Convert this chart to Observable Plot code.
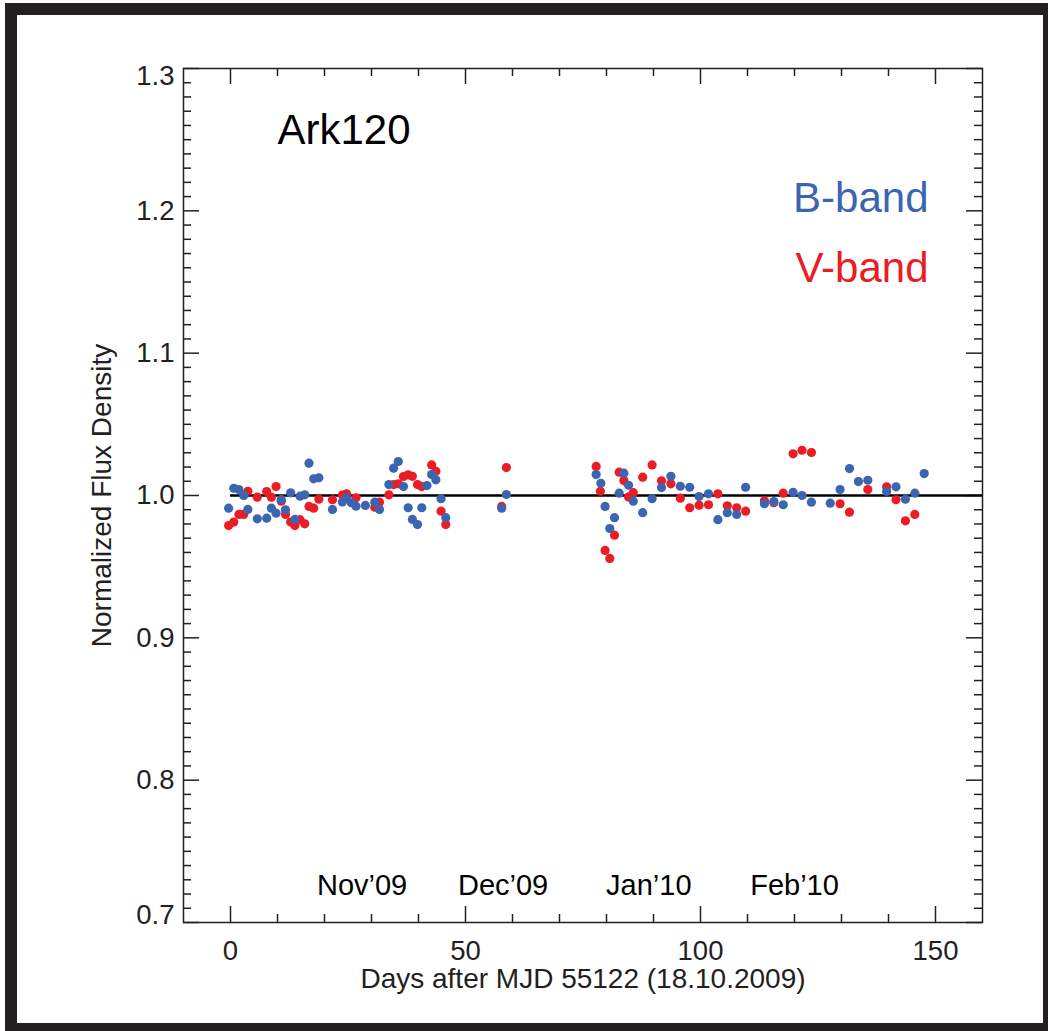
<!DOCTYPE html>
<html><head><meta charset="utf-8">
<script src="https://cdn.jsdelivr.net/npm/d3@7"></script>
<script src="https://cdn.jsdelivr.net/npm/@observablehq/plot@0.6"></script>
<style>
html,body{margin:0;padding:0;background:#fff;overflow:hidden;}
#wrap{position:relative;width:1048px;height:1031px;}
#wrap svg{position:absolute;left:0;top:0;}
#frame{position:absolute;left:5px;top:3px;width:1026px;height:1008px;border:12px solid #231f20;pointer-events:none;}
</style></head><body><div id="wrap"><div id="frame"></div></div>
<script>
// ---- data ----
const objectName = "Ark120";
const bandLabels = ["B-band", "V-band"];
const xTitle = "Days after MJD 55122 (18.10.2009)";
const yTitle = "Normalized Flux Density";
const monthLabels = ["Nov\u201909", "Dec\u201909", "Jan\u201910", "Feb\u201910"];
const monthDays = [28, 58, 89, 120];
const xMajorTicks = [0, 50, 100, 150];
const xMinorTicks = [10, 20, 30, 40, 60, 70, 80, 90, 110, 120, 130, 140];
const yLabelTicks = [0.8, 0.9, 1.0, 1.1, 1.2];
const yEndTicks = [0.7, 1.3];
const yMajorTicks = [0.7, 0.8, 0.9, 1.0, 1.1, 1.2, 1.3];
const yMinorTicks = d3.range(70, 131).filter(v => v % 10 !== 0).map(v => v / 100);
const referenceLevel = 1.0;
const referenceStart = 0;

const bDays = [-0.4,0.7,1.8,2.8,3.7,5.7,7.7,8.7,9.7,10.8,11.7,12.8,13.7,14.8,15.8,16.7,17.7,18.8,21.7,
  23.8,24.7,25.7,26.7,28.7,30.7,31.7,33.7,34.7,35.7,36.8,37.8,38.7,39.8,40.7,41.8,42.8,43.7,44.8,45.8,
  57.7,58.7,
  77.8,78.8,79.7,80.7,81.7,82.7,83.7,84.7,85.7,87.7,89.7,91.7,93.7,95.7,97.7,99.7,101.7,103.7,105.7,107.7,109.6,
  113.6,115.6,117.6,119.7,121.6,123.6,127.6,129.7,131.7,133.6,135.6,139.6,141.6,143.6,145.6,147.6];
const bFlux = [0.9911,1.0051,1.0042,1.0000,0.9902,0.9836,0.9841,0.9911,0.9876,0.9972,0.9900,1.0019,0.9832,0.9995,1.0005,1.0227,1.0117,1.0124,0.9902,
  0.9955,0.9984,0.9949,0.9925,0.9930,0.9953,0.9902,1.0077,1.0192,1.0239,1.0063,0.9914,0.9832,0.9796,0.9914,1.0070,1.0147,1.0110,0.9977,0.9844,
  0.9911,1.0007,
  1.0147,1.0086,0.9923,0.9768,0.9844,1.0016,1.0157,1.0072,0.9960,0.9879,0.9977,1.0056,1.0135,1.0065,1.0058,0.9993,1.0012,0.9830,0.9879,0.9867,1.0058,
  0.9942,0.9958,0.9935,1.0023,1.0000,0.9953,0.9946,1.0042,1.0189,1.0098,1.0107,1.0028,1.0061,0.9974,1.0016,1.0154];

const vDays = [-0.4,0.7,1.8,2.8,3.7,5.7,7.7,8.7,9.7,10.8,11.7,12.8,13.7,14.8,15.8,16.7,17.7,18.8,21.7,
  23.8,24.7,26.7,30.7,31.7,33.7,34.7,35.7,36.8,37.8,38.7,39.8,40.7,42.8,43.7,44.8,45.8,
  57.7,58.7,
  77.8,78.7,79.7,80.7,81.7,82.7,83.7,84.7,85.7,87.7,89.7,91.7,93.7,95.7,97.7,99.7,101.7,103.7,105.7,107.7,109.6,
  113.6,115.6,117.6,119.7,121.6,123.6,129.7,131.7,135.6,139.6,141.6,143.6,145.6];
const vFlux = [0.9789,0.9813,0.9867,0.9867,1.0030,0.9988,1.0028,0.9988,1.0063,0.9960,0.9867,0.9813,0.9789,0.9830,0.9801,0.9923,0.9911,0.9974,0.9970,
  1.0003,1.0012,0.9984,0.9918,0.9953,1.0005,1.0077,1.0082,1.0133,1.0145,1.0135,1.0077,1.0063,1.0215,1.0170,0.9890,0.9796,
  0.9923,1.0196,
  1.0204,1.0030,0.9614,0.9558,0.9721,1.0164,1.0105,0.9990,1.0020,1.0129,1.0215,1.0103,1.0082,0.9981,0.9914,0.9932,0.9935,1.0012,0.9928,0.9914,0.9890,
  0.9963,0.9949,1.0016,1.0293,1.0318,1.0302,0.9942,0.9883,1.0042,1.0061,0.9970,0.9822,0.9867];

// ---- layout ----
const W = 1048, H = 1031, mL = 183, mR = 66, mT = 68, mB = 109;
const plotW = W - mL - mR, plotH = H - mT - mB;
const ink = "#231f20";
const blue = "#3c65b1";
const red = "#ec1c24";
const font = "'Liberation Sans', Arial, Helvetica, sans-serif";

const bData = bDays.map((d, i) => ({day: d, flux: bFlux[i]}));
const vData = vDays.map((d, i) => ({day: d, flux: vFlux[i]}));

const chart = Plot.plot({
  width: W, height: H,
  marginLeft: mL, marginRight: mR, marginTop: mT, marginBottom: mB,
  style: {fontFamily: font, background: "transparent", color: ink},
  x: {domain: [-10, 160]},
  y: {domain: [0.7, 1.3]},
  marks: [
    // ticks bottom/top
    Plot.tickX(xMinorTicks, {x: d => d, insetTop: plotH - 8, stroke: ink, strokeWidth: 1.5}),
    Plot.tickX(xMajorTicks, {x: d => d, insetTop: plotH - 16, stroke: ink, strokeWidth: 1.5}),
    Plot.tickX(xMinorTicks, {x: d => d, insetBottom: plotH - 8, stroke: ink, strokeWidth: 1.5}),
    Plot.tickX(xMajorTicks, {x: d => d, insetBottom: plotH - 16, stroke: ink, strokeWidth: 1.5}),
    // ticks left/right
    Plot.tickY(yMinorTicks, {y: d => d, insetRight: plotW - 8, stroke: ink, strokeWidth: 1.5}),
    Plot.tickY(yMajorTicks, {y: d => d, insetRight: plotW - 16, stroke: ink, strokeWidth: 1.5}),
    Plot.tickY(yMinorTicks, {y: d => d, insetLeft: plotW - 8, stroke: ink, strokeWidth: 1.5}),
    Plot.tickY(yMajorTicks, {y: d => d, insetLeft: plotW - 16, stroke: ink, strokeWidth: 1.5}),
    Plot.frame({stroke: ink, strokeWidth: 1.5}),
    // axis labels
    Plot.axisX({ticks: xMajorTicks, tickSize: 0, tickPadding: 18, fontSize: 27.5, tickFormat: d => String(d), label: null, fill: ink}),
    Plot.axisY({ticks: yLabelTicks, tickSize: 0, tickPadding: 9, fontSize: 27.5, tickFormat: d3.format(".1f"), label: null, fill: ink}),
    Plot.text([yEndTicks[0]], {y: d => d, text: d => d.toFixed(1), frameAnchor: "left", dx: -9, dy: -7, textAnchor: "end", lineAnchor: "middle", fontSize: 27.5, fill: ink}),
    Plot.text([yEndTicks[1]], {y: d => d, text: d => d.toFixed(1), frameAnchor: "left", dx: -9, dy: 8, textAnchor: "end", lineAnchor: "middle", fontSize: 27.5, fill: ink}),
    Plot.text([xTitle], {text: d => d, frameAnchor: "bottom", dy: 57, textAnchor: "middle", lineAnchor: "middle", fontSize: 28, fill: ink}),
    Plot.text([yTitle], {text: d => d, frameAnchor: "left", rotate: -90, dx: -81, textAnchor: "middle", lineAnchor: "middle", fontSize: 28, fill: ink}),
    // month labels
    Plot.text(monthLabels, {x: (d, i) => monthDays[i], text: d => d, frameAnchor: "bottom", dy: -37, textAnchor: "middle", lineAnchor: "middle", fontSize: 29, fill: "black"}),
    // reference line
    Plot.ruleY([referenceLevel], {x1: referenceStart, x2: 160, stroke: "black", strokeWidth: 2.6}),
    // data
    Plot.dot(vData, {x: "day", y: "flux", r: 4.6, fill: red}),
    Plot.dot(bData, {x: "day", y: "flux", r: 4.6, fill: blue}),
    // annotations
    Plot.text([objectName], {text: d => d, frameAnchor: "top-left", dx: 94, dy: 61.6, textAnchor: "start", lineAnchor: "middle", fontSize: 42, fill: "black"}),
    Plot.text([bandLabels[0]], {text: d => d, frameAnchor: "top-right", dx: -54, dy: 129.6, textAnchor: "end", lineAnchor: "middle", fontSize: 42, fill: blue}),
    Plot.text([bandLabels[1]], {text: d => d, frameAnchor: "top-right", dx: -54, dy: 199.6, textAnchor: "end", lineAnchor: "middle", fontSize: 42, fill: red})
  ]
});
const wrap = document.getElementById("wrap");
wrap.insertBefore(chart, wrap.firstChild);
</script>
</body></html>
